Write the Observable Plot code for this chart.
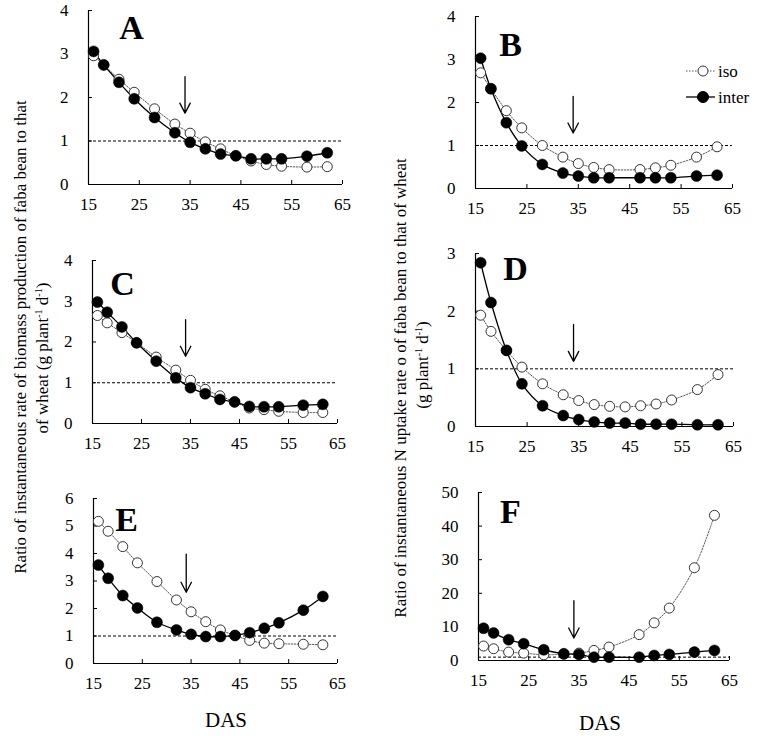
<!DOCTYPE html>
<html><head><meta charset="utf-8">
<script src="https://cdn.jsdelivr.net/npm/d3@7"></script>
<script src="https://cdn.jsdelivr.net/npm/@observablehq/plot@0.6"></script>
<style>
body{margin:0;background:#fff;}
#fig{position:relative;width:760px;height:736px;font-family:"Liberation Serif","Times New Roman",serif;color:#000;overflow:hidden;}
.panel{position:absolute;}
.ytitle{position:absolute;white-space:nowrap;font-size:17px;transform:translate(-50%,-50%) rotate(-90deg);line-height:1;}
.ytitle sup{font-size:10px;vertical-align:6px;line-height:0;}
.das{position:absolute;font-size:21px;transform:translate(-50%,-50%);}
</style></head><body><div id="fig"></div>
<script>
const das = [16,18,21,24,28,32,35,38,41,44,47,50,53,58,62];
const xTicks = [15,25,35,45,55,65];
const seriesNames = ["iso","inter"];

const isoA   = [2.96,2.75,2.42,2.12,1.74,1.39,1.18,0.98,0.82,0.66,0.54,0.46,0.42,0.40,0.41];
const interA = [3.06,2.75,2.35,1.97,1.54,1.19,0.97,0.82,0.70,0.66,0.59,0.59,0.59,0.65,0.73];
const isoB   = [2.69,2.32,1.81,1.41,1.00,0.73,0.58,0.49,0.44,null,0.44,0.48,0.54,0.73,0.97];
const interB = [3.03,2.32,1.53,0.99,0.56,0.36,0.29,0.25,0.25,null,0.25,0.25,0.25,0.29,0.31];
const isoC   = [2.65,2.47,2.23,1.98,1.63,1.31,1.06,0.84,0.68,0.53,0.38,0.34,0.30,0.27,0.27];
const interC = [2.98,2.73,2.37,1.98,1.53,1.12,0.88,0.73,0.59,0.53,0.42,0.41,0.41,0.45,0.47];
const isoD   = [1.93,1.65,1.32,1.03,0.74,0.55,0.45,0.38,0.35,0.34,0.36,0.39,0.46,0.64,0.90];
const interD = [2.84,2.15,1.32,0.74,0.36,0.19,0.12,0.08,0.06,0.06,0.04,0.04,0.04,0.03,0.03];
const isoE   = [5.17,4.81,4.25,3.66,2.98,2.31,1.88,1.52,1.22,1.02,0.84,0.74,0.72,0.70,0.68];
const interE = [3.58,3.10,2.47,2.02,1.50,1.22,1.06,0.98,0.98,1.02,1.12,1.28,1.48,1.94,2.44];
const isoF   = [4.3,3.5,2.5,2.2,1.7,1.9,2.2,3.0,4.0,null,7.7,11.2,15.6,27.6,43.2];
const interF = [9.6,8.2,6.2,5.0,3.2,2.0,1.8,1.0,1.0,null,1.0,1.5,1.8,2.5,3.0];

const yTicks4 = [0,1,2,3,4];
const yTicks3 = [0,1,2,3];
const yTicks6 = [0,1,2,3,4,5,6];
const yTicks50 = [0,10,20,30,40,50];

// arrows: [DAS, y start, y end]
const arrowA = [34, 2.48, 1.64];
const arrowB = [34, 2.14, 1.29];
const arrowC = [34, 2.55, 1.65];
const arrowD = [34, 1.77, 1.13];
const arrowE = [34, 3.98, 2.59];
const arrowF = [34, 17.8, 6.7];

const panels = [
  {label:"A", iso:isoA, inter:interA, yTicks:yTicks4, arrow:arrowA, left:88, right:342, top:10, bottom:184, lx:43, ly:18},
  {label:"B", iso:isoB, inter:interB, yTicks:yTicks4, arrow:arrowB, left:475, right:732, top:16, bottom:188, lx:35, ly:29},
  {label:"C", iso:isoC, inter:interC, yTicks:yTicks4, arrow:arrowC, left:92, right:337, top:260, bottom:423, lx:30, ly:24},
  {label:"D", iso:isoD, inter:interD, yTicks:yTicks3, arrow:arrowD, left:475, right:733, top:253, bottom:426, lx:40, ly:16},
  {label:"E", iso:isoE, inter:interE, yTicks:yTicks6, arrow:arrowE, left:93, right:337, top:498, bottom:663, lx:33, ly:22},
  {label:"F", iso:isoF, inter:interF, yTicks:yTicks50, arrow:arrowF, left:478, right:729, top:492, bottom:660, lx:32, ly:20}
];

const fig = document.getElementById("fig");
const FONT = '"Liberation Serif","Times New Roman",serif';

function rows(vals, series){
  return das.map((d,i)=>({das:d, v:vals[i], series})).filter(r=>r.v!=null);
}

for (const p of panels){
  const ml=50, mr=14, mt=8, mb=36;
  const w = p.right - p.left + ml + mr;
  const h = p.bottom - p.top + mt + mb;
  const iso = rows(p.iso, seriesNames[0]);
  const inter = rows(p.inter, seriesNames[1]);
  const yMax = p.yTicks[p.yTicks.length-1];
  const chart = Plot.plot({
    width:w, height:h, marginLeft:ml, marginRight:mr, marginTop:mt, marginBottom:mb,
    style:{fontFamily:FONT, fontSize:"17px", background:"transparent", overflow:"visible", color:"#000"},
    x:{domain:[15,65]},
    y:{domain:[0,yMax]},
    marks:[
      Plot.ruleY([1], {stroke:"#000", strokeWidth:1, strokeDasharray:"3,2"}),
      Plot.ruleX([15], {stroke:"#000", strokeWidth:1.2}),
      Plot.ruleY([0], {stroke:"#000", strokeWidth:1.2}),
      Plot.axisX({ticks:xTicks, tickSize:-4, tickPadding:17, label:null, tickFormat:d=>d, stroke:"#000", fontFamily:FONT}),
      Plot.axisY({ticks:p.yTicks, tickSize:-4, tickPadding:24, label:null, tickFormat:d=>d, stroke:"#000", fontFamily:FONT}),
      Plot.line(iso, {x:"das", y:"v", stroke:"#555", strokeWidth:1, strokeDasharray:"1.5,1.5", curve:"catmull-rom"}),
      Plot.line(inter, {x:"das", y:"v", stroke:"#000", strokeWidth:1.3, curve:"catmull-rom"}),
      Plot.dot(iso, {x:"das", y:"v", r:5, fill:"#fff", stroke:"#333", strokeWidth:1}),
      Plot.dot(inter, {x:"das", y:"v", r:5.5, fill:"#000", stroke:"#000", strokeWidth:0.5}),
      Plot.arrow([p.arrow], {x1:d=>d[0], x2:d=>d[0], y1:d=>d[1], y2:d=>d[2], stroke:"#000", strokeWidth:1.3, headLength:13, headAngle:55}),
      Plot.text([p.label], {frameAnchor:"top-left", dx:p.lx, dy:p.ly, text:d=>d, fontSize:34, fontWeight:"bold", textAnchor:"middle", lineAnchor:"middle", fill:"#000", fontFamily:FONT})
    ]
  });
  chart.classList.add("panel");
  chart.style.left = (p.left - ml) + "px";
  chart.style.top = (p.top - mt) + "px";
  fig.appendChild(chart);
}

// legend (in panel B)
const leg = d3.create("svg").attr("width",90).attr("height",50)
  .style("position","absolute").style("left","680px").style("top","58px").style("overflow","visible");
const legItems = [
  {name:seriesNames[0], y:13, dash:"1.5,1.5", fill:"#fff", stroke:"#333", lw:1, lc:"#555", r:5},
  {name:seriesNames[1], y:39, dash:null, fill:"#000", stroke:"#000", lw:1.3, lc:"#000", r:5.5}
];
for (const it of legItems){
  leg.append("line").attr("x1",6).attr("x2",35).attr("y1",it.y).attr("y2",it.y)
    .attr("stroke",it.lc).attr("stroke-width",it.lw).attr("stroke-dasharray",it.dash);
  leg.append("circle").attr("cx",23).attr("cy",it.y).attr("r",it.r).attr("fill",it.fill).attr("stroke",it.stroke);
  leg.append("text").attr("x",38).attr("y",it.y).attr("dy","0.35em").attr("font-family",FONT).attr("font-size",17).text(it.name);
}
fig.appendChild(leg.node());

// axis titles
function addDiv(cls, html, x, y){
  const d = document.createElement("div");
  d.className = cls; d.innerHTML = html;
  d.style.left = x+"px"; d.style.top = y+"px";
  fig.appendChild(d);
}
addDiv("ytitle", "Ratio of instantaneous rate of biomass production of faba bean to that", 20, 337);
addDiv("ytitle", "of wheat (g plant<sup>-1</sup> d<sup>-1</sup>)", 42, 358);
addDiv("ytitle", "Ratio of instantaneous N uptake rate o of faba bean to that of wheat", 400, 388);
addDiv("ytitle", "(g plant<sup>-1</sup> d<sup>-1</sup>)", 422, 365);
addDiv("das", "DAS", 226, 720);
addDiv("das", "DAS", 600, 723);
</script></body></html>
